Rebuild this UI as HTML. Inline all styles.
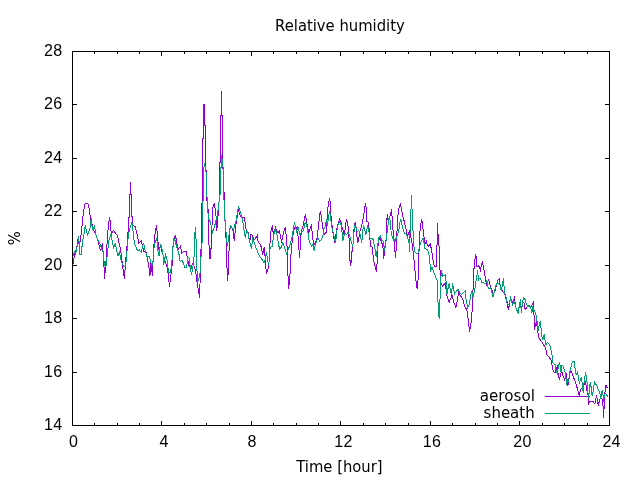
<!DOCTYPE html>
<html><head><meta charset="utf-8"><title>Relative humidity</title>
<style>
html,body{margin:0;padding:0;background:#fff;overflow:hidden}
svg{display:block}
text{fill:#000}
.n{font-family:"Liberation Sans","DejaVu Sans",sans-serif;font-size:16px;letter-spacing:.2px}
.w{font-family:"DejaVu Sans","Liberation Sans",sans-serif;font-size:15.6px}
.c{fill:none;stroke-width:1;stroke-linejoin:miter;shape-rendering:crispEdges}
</style></head><body>
<svg width="640" height="480" viewBox="0 0 640 480">
<rect x="0" y="0" width="640" height="480" fill="#fff"/>
<path class="c" d="M73,264 74,258 75,253.5 76.9,247.5 77.8,239.5 78.5,243 80,242 81.5,232 82.5,220 83.5,212.5 84.5,205 85.5,203.5 87.5,203.5 88.5,205 89.4,211 90.6,218.8 92,224 93.1,228.8 96.2,235 98.1,241.2 100.6,251.2 102.5,243 103.8,262.5 104.6,278.5 106.2,258.8 107.5,235 108.8,222.5 109.6,217 110.6,223.8 111.2,233.8 113.5,230.6 117.5,235.6 119.4,244.4 120.6,250 121.5,257.5 123.1,270 124.4,278.5 125.6,261.2 126.9,248.8 127.5,237.5 128.5,227.5 128.6,218 129.5,217 129.5,195 130.5,194 130.5,182 130.5,194 131.5,195 131.5,216 132.5,217 132.6,225.6 135,226.2 136.9,233.8 138.8,243 141.2,241.2 142.5,246.2 143.8,251.2 146.2,252.5 148.1,262.5 149.4,270 150,275.6 151,262.5 152.4,275.6 153.6,248.8 154.9,235 156.5,225 157.4,236 158.2,243.8 159.2,251 160.5,245 162,252 164,258 165.5,262.5 167.4,267.5 168.6,277.5 169.4,286.5 170.3,280 171.1,273 172.4,262.5 173,247.5 174.2,237.5 175.5,235.6 176.5,241.2 178,249.4 180.5,246.2 181.8,253 184.2,251.2 186.1,251.2 187.4,257.5 188.6,265 191.1,268.8 192.4,264 194,266 195.5,270 196.8,280 197.5,286 198.8,292 199.4,297.5 200,284 200.5,272 200.6,255 201.4,243.8 201.5,206 202.5,201 202.5,139 203.5,138 203.5,104 204.5,104 204.5,125 205.5,126 205.5,167.5 206.5,172 206.8,200 208,207.5 208.1,218.8 208.6,243.8 209.9,247.5 210,259.4 211.1,247.5 211.8,228.8 213,207.5 214.2,203 215.5,211 216.5,220 216.8,230.6 217.5,222 218.6,210 219.5,192 219.5,163 220.5,162 220.5,116 221.5,115 221.5,91 221.5,115 222.5,116 222.6,166 223.6,172 224.2,200 224.5,216 225.5,226 226.1,240 227,267.5 227.8,281 228.5,262 229.5,240 229.8,229.4 231,226.2 232.9,230 233.5,236.2 234.5,241.2 235.4,227.5 236.6,221.2 237.9,212.5 238.5,210 240.4,216.2 242.2,217.5 244.5,217.5 245.4,225 246.2,230.6 247.9,231.9 248.8,237.5 249.8,241.2 251,233.8 252.2,235 254.1,240 256,237.5 257.2,235.6 258.2,242.5 260,243.8 261.6,248 262.5,255 263.5,250.6 264.4,246.9 265,256.2 266.4,273.5 267.9,270 269.1,261.2 269.5,249.4 270.4,237.5 271.2,229.4 272.5,225.6 273.2,233.8 274.1,231.2 275.4,227.5 276.6,230.6 278.2,233 279.5,230.6 280.4,236.2 281.6,242.5 282.5,237.5 283.5,231.9 285.4,227.5 286,233.8 286.9,241.2 287.2,253.8 288.5,289.4 289.8,278.8 290.4,266.2 291,253.8 292.2,241.2 293.2,233.8 294.5,228 296,227 297.9,235 298.5,242.5 299.1,251.2 299.6,257.5 300.8,236.2 301.6,230 302.9,226.9 304.1,220 305.4,214.4 306.5,221.2 307.5,227.5 308.8,232.5 310,228.8 311.2,225.6 312.1,231.2 313,240 314,245 315.9,241.2 317.1,237.5 318,230 319,221.2 320.2,211.2 321.5,216.9 322.5,226.2 323.8,232.5 325,234.4 326.8,231.2 327.1,215 328.4,203.8 329.6,198 330.5,203.8 330.9,215 331.8,223.8 332.8,231.2 333.8,238 334.6,242.5 335.9,235 336.8,228.8 337.8,225 339.6,219.4 341.2,222.5 342.1,227.5 343.4,231.2 344.2,236.2 345,230 345.9,222.5 346.5,219.4 347.8,223.8 348.4,230 349,237.5 349.6,256.2 350.5,265.6 351.5,260 352.1,250 353,243.8 353.4,238.8 354,228.8 355.2,222.5 356.2,227.5 356.8,235 357.8,243 359,237.5 360,231.2 361.5,226.2 362.8,220.6 363.8,215 364.6,208 365.5,203 366.2,208.8 366.8,221.2 368.4,222.5 369,227.5 369.6,235 370,240 370.9,246.2 372.5,247.5 373.4,261.2 374.6,262.5 375.2,268 376.5,270.6 377.1,262.5 377.8,252.5 378.1,243 379.6,238 380.5,239.4 382.1,243.8 383,247.5 383.8,259.4 384.5,248.8 386.4,237.5 386.8,222.5 387.2,214.4 388.2,221.2 389.5,217.5 390.5,215 391.4,209.4 392.2,217.5 393,230 393.9,240 394.5,246.2 395.5,257.5 396.4,246.2 396.8,237.5 397,231.2 397.6,220 398.5,210 399.5,205.6 400.5,204 401.4,208.8 402.6,215 403.9,220 405.1,225.6 406.4,230 407.6,236.9 409.5,230 410.5,235 411.4,240 412,242.5 413.2,252.5 414.5,265 415.8,280 417.2,289.4 418.2,277.5 418.9,255 419.5,235 420.8,223.8 421.6,219.4 422.6,223.8 423.2,231.2 424.2,238.8 425.1,243.8 426.4,241.2 427.2,245 428.5,246.2 430.1,243.8 431,247.5 432,252.5 433.2,261.2 434.5,266.9 436.4,266.9 436.8,245 437.5,244 437.5,222.5 437.5,233.5 438.5,234.5 438.9,242.5 439.5,262 440.8,282.5 442.6,286.2 445.1,283 446.4,291.2 447,296.2 449.2,302.5 452,295 453.9,302.5 456,307.5 457.6,298.8 458.5,291.9 460.8,296.2 462.6,298.8 464.5,306.2 466.7,309.4 467.5,313 468.4,321 469.5,331.7 470.5,327 471.4,320 472,312.5 472.6,295 473.5,284 473.5,269 474.5,268 474.5,259.5 475.5,258.5 475.5,254.2 476.4,258 476.5,266 477.8,266.9 478.6,265.5 480.4,270 481.6,264.5 482.5,262.2 483.4,266.4 484.5,272.5 485.6,280 486.9,286.2 488.5,278.8 489.4,281.9 490.6,287.5 491.9,290 493.1,295 494.4,292.5 495.6,288.8 496.9,283.8 498.1,280 499.4,278.8 500,283.8 501.2,288.8 502.8,291.9 504.4,292.5 505.6,297.5 506.9,302.5 508.5,310 509.4,303.8 510.2,298.8 511.9,302.5 513.1,301.2 514.4,298 515.2,303.8 516.2,308.8 518.1,311.2 520,305 521.5,310 523.1,301.9 524.4,303.8 525.2,310 526.9,306.9 528.8,305 530.6,307.5 532.2,305 533.5,302.5 534,315 534.5,329.8 535.6,323.8 536.5,321.2 537.2,327.5 537.9,332.5 538.5,337 540.4,340 542.2,342.5 544.1,345.6 545.8,348.8 547.2,355.6 549.1,356.9 551,360 552.2,366.2 553.5,371.9 555.4,372.5 556.6,367.5 557.5,366.2 558.2,375 559.5,380 560.8,373 562,372.5 562.9,375.6 564.8,380 566.3,373 566.7,376.9 567.9,385.5 568.8,380 569.8,372.5 571.4,371.4 572.9,375.6 574.1,378.8 575.4,382.5 576.6,386.2 577.9,390.5 579.2,395.5 580.2,391.2 581.3,388.4 582.9,387 584.1,385 585.6,382.3 586.5,388.4 587.4,393.1 588.2,396 588.4,404.4 589.1,402.5 590.5,401.1 592.4,401.1 593.8,402.5 594.8,403.9 595.7,398.8 596.6,396.4 597.4,400.2 598.5,406.2 599.4,399.7 600.6,397.8 601.8,398.3 602.7,401.6 603.2,408 603.5,417.5 604.1,408 604.6,398.8 605.2,389.4 606,385.6 607.4,388.4" stroke="#9400d3"/>
<path class="c" d="M545,396.5H590" stroke="#9400d3"/>
<path class="c" d="M73,256.2 74.4,251.9 75.6,253.8 76.9,247.5 77.8,245 78.5,235.6 79.4,245 79.8,254.4 81.5,254.4 82.2,243.8 83.8,235 85.2,225.6 87.5,235 90,228 91.2,218 92.2,227.5 93,230 94.4,225.6 96.2,236.2 98.8,241.2 101.2,247.5 103.1,252.5 104.4,265 106.2,265 107.5,252.5 109,240 111.2,233.8 111.9,240 113.8,248 115.2,243.8 116.9,251.2 118.1,256.2 119.4,251.2 121.2,261.2 123.8,266.2 125.6,266.2 126.9,252.5 127.8,240 129.4,230 131.9,222.5 133.1,231.2 134.4,243.8 137.5,250.6 139.4,250 141.2,252.5 142.8,245 143.8,243.8 145,250 146.9,256.2 149.4,256.9 150.5,261.2 151.8,265.6 153,261.2 153.6,250 154.9,243.8 156.5,238 157.4,243.8 158.2,253 159,256.2 160.5,243.8 161.8,247.5 163.2,256.2 163.6,265 165.5,255 166.8,258.8 168,267.5 168.6,272.5 170.5,272.5 171.5,266.2 172.4,256.2 173,246.2 174,238 174.9,240 175.8,243.8 177.4,249.4 179,254.4 180.2,261.9 182,260 183.6,263.8 184.9,267.5 186.5,267.5 187.8,257.5 189,258 190.2,266.2 191.5,275 193,266.2 194,257.5 194.5,237.5 195.5,226.9 196.1,241.2 196.8,266.2 197.5,283 198.8,279 199.9,275 201.1,255 202,243.8 202.5,230 202.5,202 203.5,200 203.5,172 204.4,163 206.1,172.5 206.2,189 207.4,200 207.5,207.5 208.6,218.8 210.5,222.5 211.8,228 212.4,233.8 213.6,228.8 214.9,225 216.1,220 217.4,213.8 218.6,207.5 219.5,196 220.5,193 220.5,168 221.5,167 221.5,155 223.4,170 223.6,189 224.2,205 225,220 226,232 227,243 227.2,246.2 228.5,240 229.5,230 230.8,225.6 232.2,228 233.2,230 234.5,226.2 236,221.2 237,215 238.5,206.2 239.8,210 241.2,214.4 242.9,222.5 244.1,230.6 245.4,238 246.6,230.6 248.2,233 249.1,240 250.4,243.8 251.6,249.4 252.5,237.5 254.1,242.5 256,248 257.9,252.5 259.8,256.9 261.6,258.8 264.1,262.5 265.4,258.8 266.2,252.5 267,256.2 268.5,265 269.5,258.8 269.8,250 270.4,247.5 272.2,246.2 273.5,236.2 275,229.4 276.6,232.5 277.9,240 279.5,249.4 281,247.5 282.9,242.5 284.8,248.8 286.6,253.8 288.5,248.8 290.4,243.8 292.2,236.2 293.5,227.5 294.4,222.5 295.4,226.9 296.6,231.2 297.9,226.9 299.1,231.2 300,235 301.6,231.9 303.5,230.6 304.8,223.8 306,221.9 306.6,225 307.8,231.2 309,240 310.2,243.8 311.8,246.2 313,243.8 314.2,251.2 315.2,245 316.5,241.2 317.8,237.5 319.6,241.2 320.9,240.6 322.1,237.5 323,235 323.8,228.8 325,227.5 325.9,222.5 326.5,219.4 327.5,226.2 328.4,217.5 329.6,211.2 330.5,215 331.2,223.8 332.1,228.8 333.4,233.8 334.6,238.8 335.5,243 336.2,237.5 337.1,228.8 338,225 339.6,221.2 341.2,225 342.1,232.5 342.8,241.2 344,236.2 345.2,233.8 346.5,234.4 348,232.5 349,233.8 350.2,238 351.5,242.5 352.8,246.9 353.8,233.8 355,225.6 355.9,227.5 357.1,231.2 359,230.6 360,233.8 361.2,240 361.8,242.5 362.5,233.8 363.4,225.6 364.6,228.8 365.9,235 367.1,228.8 367.8,226.2 368.8,230 369.6,238 371.5,238 373,239.4 374,243.8 375.2,250 376.2,256.9 377.1,250 377.8,243.8 379,237.5 380.2,235.6 381.5,240 383.4,241.2 384.5,251.2 385.8,242.5 386.4,238.8 387.6,227.5 388.9,218.8 389.8,216.9 390.5,226.2 391.4,233.8 392.6,238 393.9,238.8 395.1,241.2 396.4,237.5 397.6,235 398.9,230 399.8,222.5 400.8,219.4 402,225 403.2,230 404.5,233 406.4,234.4 407.6,237.5 408.9,241.2 409.5,251.9 410.1,230 410.5,209.5 411.5,208.5 411.5,195 411.5,208.5 412.5,209.5 413,231.2 413.5,240 413.9,246.2 415.1,252.5 417,253.8 418.2,252.5 419.5,246.2 420.8,242.5 422.6,238.8 423,238 423.9,242.5 424.8,248.8 427.6,249.4 428.9,253.8 429.8,262.5 430.8,270 432,267.5 433.5,271.2 435.1,275.6 437,280 437.6,288.8 438.2,307.5 439.2,318.8 439.8,306.2 440.5,282.5 441.4,270.5 442.6,276.2 445.1,275 446,281.2 447,293.8 448.2,287.5 449.2,283 450.5,291.2 451.4,295 452.6,283 453.5,288.8 454.5,293.8 456.4,291.2 458.2,289.4 459.8,292.5 461.4,294.4 463.2,293 465.1,291.2 466,298.8 467.6,307.5 469.5,303.8 470.8,295 471.8,291.2 473,296.9 474.5,291.2 475.8,282.5 477,275 477.6,270 478.5,280 480,278 481.9,282.5 483.8,283 485.6,283.8 486.9,280 487.5,286.2 488.8,288.8 490.6,287.5 491.9,292.5 493.1,296.9 494.4,291.2 495.6,286.2 497.2,283 500,284.4 501.2,291.2 502.2,286.2 503.4,278 504,286.2 505,293.8 506.2,297.5 507.5,303.8 509,305 510.6,298 511.9,302.5 512.5,306.2 513.8,300 515.6,306.2 516.9,310.6 518.1,313 519.4,305 520.6,299.4 521.2,312.5 522.5,302.5 523.4,297.5 525,299.4 526.2,303.8 527.8,306.2 529.8,305.6 531,308.8 531.9,313 532.5,306.2 533.5,308.8 534.8,311.2 536,315 536.9,320 538.1,331.2 539,326.2 540.2,321.2 541,327.5 541.6,336.2 542.9,339.4 544.1,334.4 545,340 546,345 547.5,342.5 549.1,344.4 550.4,346.9 551.2,351.2 552.2,356.2 552.9,362.5 554.1,364.4 555.4,365 556.2,371.2 557.2,373.8 558.5,366.2 559.5,361.9 560.4,367.5 561,371.9 562,365 563.2,366.2 564.5,370 565.8,375 566.6,385 567.9,380 568.8,381.2 569.5,373.8 570.8,367.5 572.2,361.9 574.1,361.2 575.2,369.7 576.2,374.4 577.4,372.5 578.3,376.2 579.4,383.8 580.2,380.5 581.3,377.2 582.2,383.8 583.2,393.1 583.9,383.8 584.6,379 585.5,372.5 586.5,377.2 587.1,382.8 587.9,391.2 588.3,398.3 589.3,392.2 590.2,382.3 591.2,387.5 592.1,395.9 593,392.2 593.7,386.6 594.6,382.3 595.8,384.2 597.2,386.6 598.7,390.3 600.1,394.1 600.8,398.8 601.5,393.1 602.4,390.3 603.1,395.9 603.6,401.6 604.3,395.9 605.2,393.1 606.6,395 607.8,396.9" stroke="#009e73"/>
<path class="c" d="M545,413.5H590" stroke="#009e73"/>
<path class="c" d="M72.5,426v-5M72.5,51v5M94.5,426v-3M94.5,51v3M117.5,426v-3M117.5,51v3M139.5,426v-3M139.5,51v3M161.5,426v-5M161.5,51v5M184.5,426v-3M184.5,51v3M206.5,426v-3M206.5,51v3M229.5,426v-3M229.5,51v3M251.5,426v-5M251.5,51v5M273.5,426v-3M273.5,51v3M296.5,426v-3M296.5,51v3M318.5,426v-3M318.5,51v3M340.5,426v-5M340.5,51v5M363.5,426v-3M363.5,51v3M385.5,426v-3M385.5,51v3M408.5,426v-3M408.5,51v3M430.5,426v-5M430.5,51v5M452.5,426v-3M452.5,51v3M475.5,426v-3M475.5,51v3M497.5,426v-3M497.5,51v3M519.5,426v-5M519.5,51v5M542.5,426v-3M542.5,51v3M564.5,426v-3M564.5,51v3M587.5,426v-3M587.5,51v3M609.5,426v-5M609.5,51v5M72,425.5h5M610,425.5h-5M72,372.5h5M610,372.5h-5M72,318.5h5M610,318.5h-5M72,265.5h5M610,265.5h-5M72,211.5h5M610,211.5h-5M72,158.5h5M610,158.5h-5M72,104.5h5M610,104.5h-5M72,51.5h5M610,51.5h-5" stroke="#000"/>
<rect class="c" x="72.5" y="51.5" width="537.0" height="374.0" stroke="#000"/>
<text class="n" x="62.3" y="429.7" text-anchor="end">14</text>
<text class="n" x="62.3" y="376.7" text-anchor="end">16</text>
<text class="n" x="62.3" y="322.7" text-anchor="end">18</text>
<text class="n" x="62.3" y="269.7" text-anchor="end">20</text>
<text class="n" x="62.3" y="215.7" text-anchor="end">22</text>
<text class="n" x="62.3" y="162.7" text-anchor="end">24</text>
<text class="n" x="62.3" y="108.7" text-anchor="end">26</text>
<text class="n" x="62.3" y="55.7" text-anchor="end">28</text>
<text class="n" x="73.6" y="447.2" text-anchor="middle">0</text>
<text class="n" x="164.1" y="447.2" text-anchor="middle">4</text>
<text class="n" x="252.1" y="447.2" text-anchor="middle">8</text>
<text class="n" x="343.4" y="447.2" text-anchor="middle">12</text>
<text class="n" x="431.9" y="447.2" text-anchor="middle">16</text>
<text class="n" x="522.4" y="447.2" text-anchor="middle">20</text>
<text class="n" x="611.5" y="447.2" text-anchor="middle">24</text>
<text class="w" transform="translate(339.9,31) scale(0.949,1)" text-anchor="middle">Relative humidity</text>
<text class="w" transform="translate(339.4,472) scale(0.949,1)" text-anchor="middle">Time [hour]</text>
<text class="w" transform="translate(534.9,400.7) scale(0.972,1)" text-anchor="end">aerosol</text>
<text class="w" transform="translate(534.7,417.6) scale(0.962,1)" text-anchor="end">sheath</text>
<text class="w" transform="translate(20,238.3) rotate(-90) scale(0.949,1)" text-anchor="middle">%</text>
</svg>
</body></html>
